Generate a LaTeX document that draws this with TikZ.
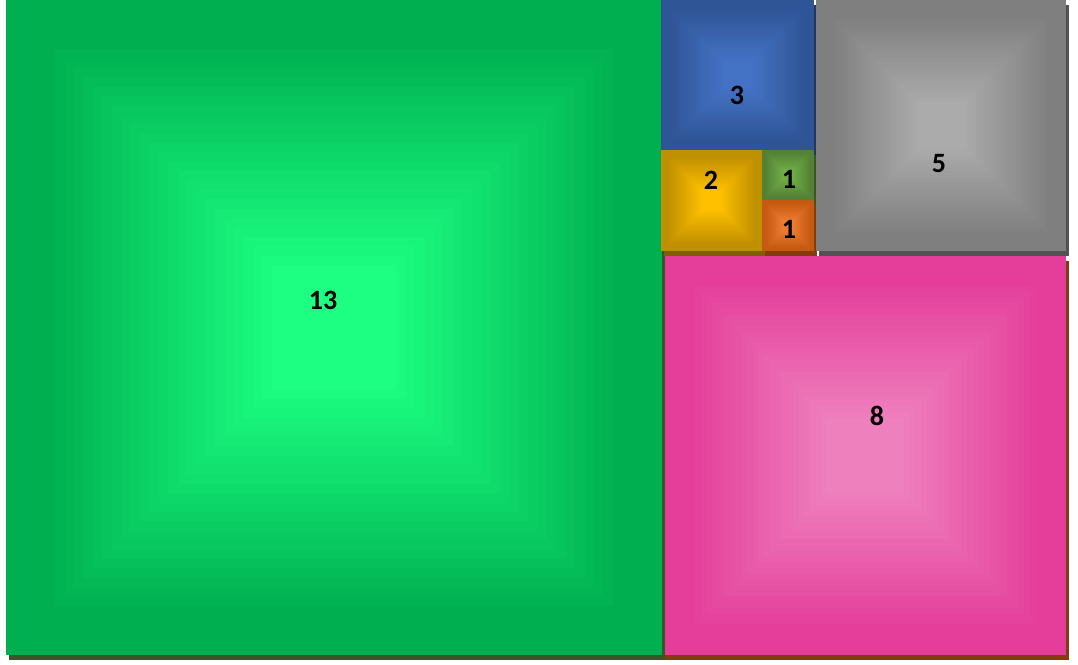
\documentclass[tikz,border=0pt]{standalone}
\usepackage{fontspec}
\setmainfont{Carlito}
\definecolor{gOut}{HTML}{00B050}\definecolor{gIn}{HTML}{1CFF82}\definecolor{gSh}{HTML}{3B5528}
\definecolor{pOut}{HTML}{E43E9A}\definecolor{pIn}{HTML}{EE80BE}\definecolor{pSh}{HTML}{843C0C}
\definecolor{aOut}{HTML}{7F7F7F}\definecolor{aIn}{HTML}{ABABAB}\definecolor{aSh}{HTML}{525252}
\definecolor{bOut}{HTML}{2F5597}\definecolor{bIn}{HTML}{4472C4}\definecolor{bSh}{HTML}{1F3864}
\definecolor{yOut}{HTML}{BF9000}\definecolor{yIn}{HTML}{FFC000}\definecolor{ySh}{HTML}{7F6000}
\definecolor{sOut}{HTML}{538135}\definecolor{sIn}{HTML}{70AD47}\definecolor{sSh}{HTML}{385723}
\definecolor{oOut}{HTML}{C55A11}\definecolor{oIn}{HTML}{ED7D31}\definecolor{oSh}{HTML}{843C0C}
\newcommand{\tileshadow}[5]{\fill[#5] ({#1+3},{#2+5}) rectangle ({#3+3},{#4+5});}
\newcommand{\tilefill}[6]{%
  \fill[#5] (#1,#2) rectangle (#3,#4);
  \foreach \i in {1,...,24}{%
    \pgfmathsetmacro{\f}{0.075+0.33*(\i-1)/23}%
    \pgfmathtruncatemacro{\p}{100*\i/24}%
    \pgfmathsetmacro{\dx}{(#3-#1)*\f}%
    \pgfmathsetmacro{\dy}{(#4-#2)*\f}%
    \fill[#6!\p!#5] ({#1+\dx},{#2+\dy}) rectangle ({#3-\dx},{#4-\dy});
  }}
\tikzset{lab/.style={font=\bfseries\fontsize{28}{32}\selectfont, text=black, inner sep=0pt}}
\begin{document}
\begin{tikzpicture}[x=1pt,y=-1pt]
\useasboundingbox[fill=white] (0,0) rectangle (1078,664);
% shadows
\tileshadow{6}{0}{662}{655}{gSh}
\fill[pSh] (665,261) rectangle (1069,660);
\tileshadow{816}{0}{1066}{251}{aSh}
\tileshadow{661}{0}{814}{150}{bSh}
\tileshadow{661}{150}{762}{251}{ySh}
\tileshadow{762}{150}{814}{200}{sSh}
\tileshadow{762}{200}{814}{251}{oSh}
% tiles
\tilefill{6}{0}{662}{655}{gOut}{gIn}
\tilefill{665}{256}{1066}{655}{pOut}{pIn}
\tilefill{816}{0}{1066}{251}{aOut}{aIn}
\tilefill{661}{0}{814}{150}{bOut}{bIn}
\tilefill{661}{150}{762}{251}{yOut}{yIn}
\tilefill{762}{150}{814}{200}{sOut}{sIn}
\tilefill{762}{200}{814}{251}{oOut}{oIn}
% labels
\node[lab] (l13) at (323,300) {13};
\node[lab] (l8) at (877,416) {8};
\node[lab] (l5) at (939,164) {5};
\node[lab] (l3) at (737,95) {3};
\node[lab] (l2) at (711,180) {2};
\node[lab] (l1a) at (789,179) {1};
\node[lab] (l1b) at (789,229) {1};
\end{tikzpicture}
\end{document}
